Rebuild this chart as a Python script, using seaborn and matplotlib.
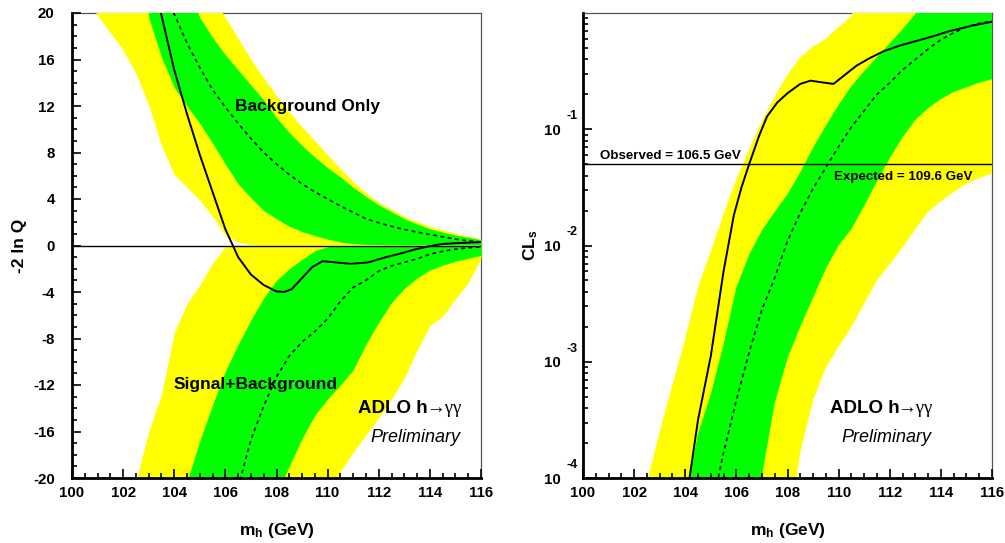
import numpy as np
import matplotlib
matplotlib.use("Agg")
import matplotlib.pyplot as plt
from matplotlib.ticker import MultipleLocator, FixedLocator, LogLocator, NullFormatter
import seaborn as sns

nan = np.nan

# ---------------- -2 ln Q versus m_h ----------------
q_mass = np.arange(100.0, 116.01, 0.5)

# background-only expectation: 2 sigma low, 1 sigma low, median, 1 sigma high, 2 sigma high
q_bkg_lo2 = [23.5, 21.5, 19.8, 18.3, 16.8, 14.8, 12.1, 8.6, 6.1, 5.0, 3.9, 2.5, 0.9, 0.3, 0.06,
             0.05, 0.05, 0.05, 0.05, 0.05, 0.05, 0.05, 0.05, 0.05, 0.05, 0.05, 0.05, 0.05, 0.05,
             0.05, 0.05, 0.05, 0.05]
q_bkg_lo1 = [nan, nan, nan, nan, nan, nan, 19.6, 16.2, 13.6, 12.0, 10.5, 8.8, 7.0, 5.3, 4.1, 3.0,
             2.3, 1.65, 1.2, 0.85, 0.55, 0.3, 0.15, 0.1, 0.08, 0.07, 0.06, 0.06, 0.05, 0.05, 0.05,
             0.05, 0.05]
q_bkg_med = [nan, nan, nan, nan, nan, nan, nan, 22.6, 19.9, 17.4, 15.3, 13.4, 11.9, 10.5, 9.2, 8.0,
             7.0, 6.1, 5.3, 4.6, 4.0, 3.4, 2.85, 2.3, 1.95, 1.65, 1.38, 1.15, 0.95, 0.75, 0.55, 0.4,
             0.3]
q_bkg_hi1 = [nan, nan, nan, nan, nan, nan, nan, nan, nan, 22.5, 19.6, 17.9, 16.4, 15.1, 13.8, 12.5,
             11.0, 9.7, 8.6, 7.6, 6.7, 5.9, 5.0, 4.2, 3.5, 2.9, 2.3, 1.85, 1.45, 1.15, 0.9, 0.7, 0.5]
q_bkg_hi2 = [nan, nan, nan, nan, nan, nan, nan, nan, nan, nan, nan, 21.5, 19.6, 17.8, 16.0, 14.4,
             12.9, 11.5, 10.2, 9.0, 7.8, 6.6, 5.5, 4.5, 3.7, 3.1, 2.5, 2.05, 1.65, 1.35, 1.05, 0.8,
             0.55]

# signal+background expectation
q_sb_hi2 = [nan, nan, nan, nan, nan, -20.3, -16.0, -12.8, -7.5, -5.0, -3.4, -1.5, -0.1,
            0.0, 0.0, 0.0, 0.0, 0.0, 0.0, 0.0, 0.0, 0.0, 0.0, 0.0, 0.0, 0.0, 0.0, 0.0, 0.0, 0.0,
            0.0, 0.0, 0.0]
q_sb_hi1 = [nan, nan, nan, nan, nan, nan, nan, nan, nan, -20.3, -16.8, -13.7, -10.8, -8.5, -6.4,
            -4.5, -3.0, -2.0, -1.2, -0.45, -0.1, 0.0, 0.0, 0.0, 0.0, 0.0, 0.0, 0.0, 0.0, 0.0, 0.0,
            0.0, 0.0]
q_sb_med = [nan, nan, nan, nan, nan, nan, nan, nan, nan, nan, nan, nan, nan, -20.8, -16.7, -13.8,
            -11.3, -9.5, -8.3, -7.4, -6.3, -4.8, -3.6, -3.0, -2.2, -1.75, -1.45, -1.15, -0.75, -0.5,
            -0.32, -0.2, -0.12]
q_sb_lo1 = [nan, nan, nan, nan, nan, nan, nan, nan, nan, nan, nan, nan, nan, nan, nan, nan,
            -21.3, -19.0, -16.6, -14.6, -13.2, -12.0, -10.7, -8.5, -6.6, -4.9, -3.7, -2.8, -2.1,
            -1.7, -1.35, -1.1, -0.85]
q_sb_lo2 = [nan, nan, nan, nan, nan, nan, nan, nan, nan, nan, nan, nan, nan, nan, nan, nan, nan,
            nan, nan, nan, -21.5, -19.4, -17.8, -16.3, -14.8, -13.2, -11.4, -9.0, -6.9, -6.1, -4.6,
            -3.2, -1.1]

# observed -2 ln Q
q_obs_mass = [103.0, 103.5, 104.0, 104.5, 105.0, 105.5, 106.0, 106.5, 107.0, 107.5, 108.0, 108.3,
              108.6, 109.0, 109.4, 109.8, 110.3, 110.9, 111.6, 112.2, 112.8, 113.4, 114.0, 114.5,
              115.2, 116.0]
q_obs = [24.5, 19.8, 15.1, 11.3, 7.8, 4.6, 1.4, -1.0, -2.5, -3.4, -3.95, -4.0, -3.75, -2.8, -1.85,
         -1.35, -1.45, -1.58, -1.45, -1.05, -0.72, -0.35, -0.05, 0.13, 0.22, 0.29]

q_yticks = [-20, -16, -12, -8, -4, 0, 4, 8, 12, 16, 20]
mass_ticks = [100, 102, 104, 106, 108, 110, 112, 114, 116]

# ---------------- CLs versus m_h (log10 values) ----------------
cls_mass = np.arange(102.0, 116.01, 0.5)

log_cls_lo2 = [nan, nan, nan, nan, nan, nan, nan, nan, nan, nan, nan, nan, -4.5, -3.78, -3.33,
               -3.05, -2.87, -2.7, -2.5, -2.3, -2.16, -2.02, -1.86, -1.71, -1.62, -1.54, -1.47,
               -1.42, -1.38]
log_cls_lo1 = [nan, nan, nan, nan, nan, nan, nan, nan, nan, -4.8, -3.98, -3.36, -2.97, -2.7,
               -2.45, -2.2, -2.0, -1.86, -1.66, -1.45, -1.25, -1.07, -0.92, -0.82, -0.74, -0.68,
               -0.64, -0.60, -0.57]
log_cls_hi1 = [nan, nan, nan, -4.8, -4.15, -3.62, -3.28, -2.85, -2.36, -2.08, -1.87, -1.71, -1.56,
               -1.37, -1.16, -0.97, -0.79, -0.63, -0.50, -0.38, -0.26, -0.14, -0.01,
               nan, nan, nan, nan, nan, nan]
log_cls_hi2 = [-4.5, -4.04, -3.6, -3.2, -2.8, -2.36, -2.05, -1.73, -1.43, -1.17, -0.93, -0.72,
               -0.53, -0.38, -0.29, -0.22, -0.12, -0.03,
               nan, nan, nan, nan, nan, nan, nan, nan, nan, nan, nan]

cls_exp_mass = [105.0, 105.5, 106.0, 106.5, 107.0, 107.5, 108.0, 108.5, 109.0, 109.5, 110.0,
                110.5, 111.0, 111.5, 112.0, 112.5, 113.0, 113.5, 114.0, 114.5, 115.0, 115.5, 116.0]
log_cls_exp = [-4.3, -3.78, -3.33, -2.92, -2.55, -2.28, -1.96, -1.72, -1.51, -1.33, -1.15, -0.98,
               -0.84, -0.70, -0.60, -0.49, -0.40, -0.31, -0.23, -0.17, -0.12, -0.09, -0.07]

cls_obs_mass = [104.0, 104.5, 105.0, 105.5, 105.9, 106.2, 106.5, 106.9, 107.2, 107.6, 108.0, 108.5,
                108.9, 109.3, 109.8, 110.2, 110.7, 111.2, 111.75, 112.4, 113.05, 113.7, 114.35,
                115.2, 116.0]
log_cls_obs = [-4.25, -3.5, -2.95, -2.22, -1.74, -1.5, -1.30, -1.05, -0.89, -0.77, -0.69, -0.61,
               -0.582, -0.595, -0.61, -0.54, -0.453, -0.39, -0.33, -0.28, -0.24, -0.2, -0.155,
               -0.11, -0.075]

cls_limit = 0.05
cls_decades = [-4, -3, -2, -1]
observed_limit_text = "Observed = 106.5 GeV"
expected_limit_text = "Expected = 109.6 GeV"

YELLOW = "#FFFF00"
GREEN = "#00FF00"


def band_edge(values, before, after):
    """Carry an edge past the frame where it runs outside the plotted range."""
    arr = np.array(values, dtype=float)
    ok = np.flatnonzero(~np.isnan(arr))
    arr[:ok[0]] = before
    arr[ok[-1] + 1:] = after
    return arr


sns.set_theme(style="ticks")
plt.rcParams["font.family"] = ["Liberation Sans", "DejaVu Sans"]
plt.rcParams["font.weight"] = "bold"
plt.rcParams["text.color"] = "black"
plt.rcParams["axes.labelcolor"] = "black"
plt.rcParams["xtick.color"] = "black"
plt.rcParams["ytick.color"] = "black"
plt.rcParams["axes.unicode_minus"] = False
plt.rcParams["mathtext.fontset"] = "custom"
plt.rcParams["mathtext.rm"] = "Liberation Sans"
plt.rcParams["mathtext.bf"] = "Liberation Sans:bold"
plt.rcParams["mathtext.it"] = "Liberation Sans:italic"

fig = plt.figure(figsize=(10.05, 5.43), dpi=100)
fig.patch.set_facecolor("white")
ax_q = fig.add_axes([72 / 1005, 65 / 543, 409 / 1005, 465 / 543])
ax_c = fig.add_axes([583 / 1005, 65 / 543, 409 / 1005, 465 / 543])


def style_frame(ax):
    ax.set_facecolor("white")
    ax.set_axisbelow(False)
    for side in ("top", "right"):
        ax.spines[side].set_visible(True)
        ax.spines[side].set_linewidth(0.9)
        ax.spines[side].set_color("#555555")
        ax.spines[side].set_zorder(0.5)
    for side in ("left", "bottom"):
        ax.spines[side].set_linewidth(2.0)
        ax.spines[side].set_color("black")
        ax.spines[side].set_zorder(6)
    ax.tick_params(which="both", direction="in", top=False, right=False,
                   bottom=True, left=True, width=1.2, color="black",
                   labelcolor="black", labelsize=10.8)
    ax.tick_params(which="major", length=6.5)
    ax.tick_params(which="minor", length=3.6)
    ax.tick_params(axis="x", which="both", pad=6)
    ax.set_xlim(100, 116)
    ax.xaxis.set_major_locator(FixedLocator(mass_ticks))
    ax.xaxis.set_minor_locator(MultipleLocator(0.5))


def mass_label(ax):
    ax.set_xlabel(r"$\mathbf{m_h}$ (GeV)", fontsize=12.5, fontweight="bold", color="black")
    ax.xaxis.set_label_coords(0.5, -0.092)
    ax.xaxis.label.set_va("top")


def adlo_label(ax, x, y, px, py):
    t = ax.text(x, y, "ADLO h", fontsize=13.5, fontweight="bold",
                ha="left", va="center", zorder=7)
    ax.annotate("\u2192\u03b3\u03b3", xy=(1.0, 0.5), xycoords=t, xytext=(-1.5, 0),
                textcoords="offset points", ha="left", va="center",
                fontsize=13.5, fontweight="normal", family=["Liberation Serif", "DejaVu Serif"],
                zorder=7)
    ax.text(px, py, "Preliminary", fontsize=13, fontweight="normal", style="italic",
            ha="center", va="center", zorder=7)


# ---- left panel ----
ax = ax_q
style_frame(ax)
ax.set_ylim(-20, 20)
ax.fill_between(q_mass, band_edge(q_sb_lo2, -30, -30), band_edge(q_sb_hi2, -30, 0),
                color=YELLOW, lw=0, zorder=1)
ax.fill_between(q_mass, band_edge(q_bkg_lo2, 30, 0), band_edge(q_bkg_hi2, 30, 0),
                color=YELLOW, lw=0, zorder=1)
ax.fill_between(q_mass, band_edge(q_sb_lo1, -30, -30), band_edge(q_sb_hi1, -30, 0),
                color=GREEN, lw=0, zorder=1.2)
ax.fill_between(q_mass, band_edge(q_bkg_lo1, 30, 0), band_edge(q_bkg_hi1, 30, 0),
                color=GREEN, lw=0, zorder=1.2)
ax.axhline(0, color="black", lw=1.0, zorder=3)
sns.lineplot(x=q_mass, y=q_bkg_med, ax=ax, color="black", lw=1.2,
             linestyle=(0, (2.2, 2.2)), zorder=4)
sns.lineplot(x=q_mass, y=q_sb_med, ax=ax, color="black", lw=1.2,
             linestyle=(0, (2.2, 2.2)), zorder=4)
sns.lineplot(x=q_obs_mass, y=q_obs, ax=ax, color="black", lw=1.4, zorder=5)
ax.set_xlim(100, 116)
ax.set_ylim(-20, 20)
ax.yaxis.set_major_locator(FixedLocator(q_yticks))
ax.yaxis.set_minor_locator(MultipleLocator(1))
ax.tick_params(axis="y", which="both", pad=12.5)
ax.set_ylabel("-2 ln Q", fontsize=12.5, fontweight="bold", color="black")
ax.yaxis.set_label_coords(-0.11, 0.5)
mass_label(ax)
ax.text(109.2, 12.0, "Background Only", fontsize=12.5, fontweight="bold",
        ha="center", va="center", zorder=7)
ax.text(107.2, -12.0, "Signal+Background", fontsize=12.5, fontweight="bold",
        ha="center", va="center", zorder=7)
adlo_label(ax, 111.2, -14.05, 113.45, -16.5)

# ---- right panel ----
ax = ax_c
style_frame(ax)
ax.set_yscale("log")
ax.fill_between(cls_mass, 10.0 ** band_edge(log_cls_lo2, -6, 0.5),
                10.0 ** band_edge(log_cls_hi2, -6, 0.5), color=YELLOW, lw=0, zorder=1)
ax.fill_between(cls_mass, 10.0 ** band_edge(log_cls_lo1, -6, 0.5),
                10.0 ** band_edge(log_cls_hi1, -6, 0.5), color=GREEN, lw=0, zorder=1.2)
ax.axhline(cls_limit, color="black", lw=1.0, zorder=3)
sns.lineplot(x=cls_exp_mass, y=10.0 ** np.array(log_cls_exp), ax=ax, color="black", lw=1.2,
             linestyle=(0, (2.2, 2.2)), zorder=4)
sns.lineplot(x=cls_obs_mass, y=10.0 ** np.array(log_cls_obs), ax=ax, color="black", lw=1.4,
             zorder=5)
ax.set_xlim(100, 116)
ax.set_ylim(1e-4, 1.0)
ax.yaxis.set_major_locator(FixedLocator([10.0 ** d for d in cls_decades]))
ax.set_yticklabels(["10"] * len(cls_decades))
ax.yaxis.set_minor_locator(LogLocator(base=10, subs=np.arange(2, 10)))
ax.yaxis.set_minor_formatter(NullFormatter())
ax.tick_params(axis="y", which="both", pad=15.8)
for d in cls_decades:
    ax.annotate(str(d), xy=(0, 10.0 ** d), xycoords=ax.get_yaxis_transform(),
                xytext=(-11.7, 9.4), textcoords="offset points", ha="left", va="center",
                fontsize=9, fontweight="bold", annotation_clip=False)
ax.set_ylabel(r"$\mathbf{CL_s}$", fontsize=12.5, fontweight="bold", color="black")
ax.yaxis.set_label_coords(-0.105, 0.5)
mass_label(ax)
ax.text(100.65, 0.056, observed_limit_text, fontsize=9.6, fontweight="bold",
        ha="left", va="baseline", zorder=7)
ax.text(109.8, 0.0363, expected_limit_text, fontsize=9.6, fontweight="bold",
        ha="left", va="baseline", zorder=7)
adlo_label(ax, 109.66, 10 ** -3.403, 111.88, 10 ** -3.648)

fig.savefig("out.png", dpi=100, facecolor="white")
